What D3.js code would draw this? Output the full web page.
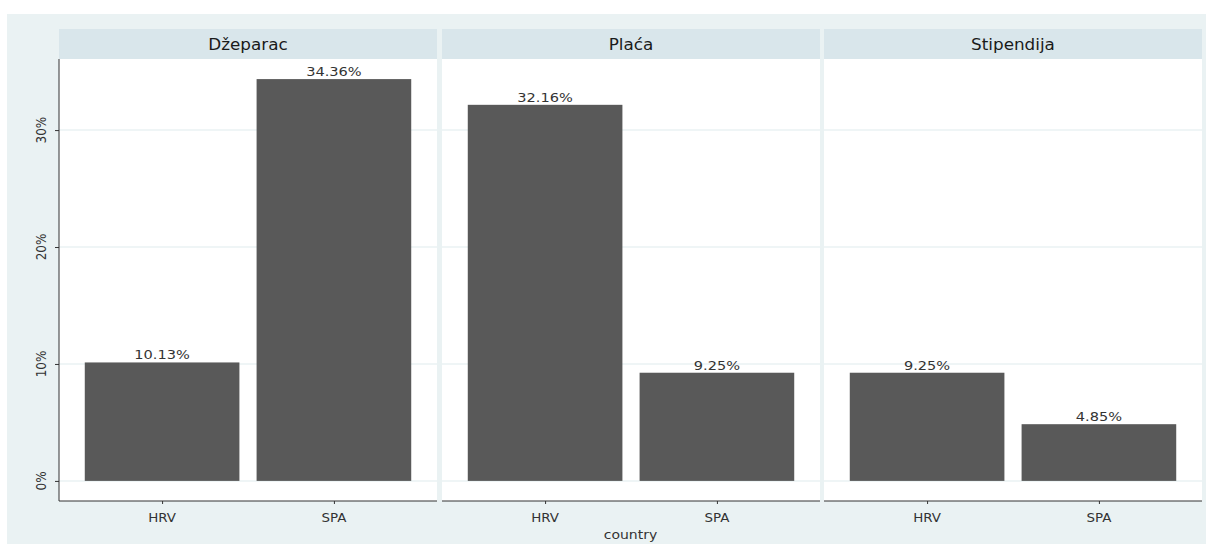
<!DOCTYPE html>
<html><head><meta charset="utf-8">
<script src="https://cdn.jsdelivr.net/npm/d3@7"></script>
<style>body{margin:0;background:#fff;} svg{display:block;font-family:"DejaVu Sans",sans-serif;}</style>
</head><body>
<script>
const panels = ["Džeparac", "Plaća", "Stipendija"];
const countries = ["HRV", "SPA"];
const hrvValues = [10.13, 32.16, 9.25];
const spaValues = [34.36, 9.25, 4.85];
const yTicks = [0, 10, 20, 30];
const xTitle = "country";

(function () {
const W = 1206, H = 544, SX = 1.12;
const svg = d3.select("body").append("svg").attr("width", W).attr("height", H);
svg.append("rect").attr("x", 7).attr("y", 14).attr("width", W - 7).attr("height", H - 14).attr("fill", "#EAF2F3");

function label(parent, x, y, txt, size, color, extra) {
  return parent.append("text")
    .attr("transform", `translate(${x},${y}) scale(${SX},1)${extra || ""}`)
    .attr("text-anchor", "middle").attr("font-size", size).attr("fill", color).text(txt);
}

const panelLeft = [59, 442, 824], panelW = 378;
const pTop = 59, pBottom = 501, stripTop = 29;
const maxV = d3.max(hrvValues.concat(spaValues));
const y = d3.scaleLinear().domain([-0.05 * maxV, maxV * 1.05]).range([pBottom, pTop]);

panels.forEach((p, i) => {
  const x0 = panelLeft[i];
  const g = svg.append("g");
  g.append("rect").attr("x", x0).attr("y", stripTop).attr("width", panelW).attr("height", pTop - stripTop).attr("fill", "#D9E6EB");
  label(g, x0 + panelW / 2, 50, p, 15, "#1a1a1a");
  g.append("rect").attr("x", x0).attr("y", pTop).attr("width", panelW).attr("height", pBottom - pTop).attr("fill", "#fff");
  yTicks.forEach(t => {
    g.append("line").attr("x1", x0).attr("x2", x0 + panelW).attr("y1", y(t)).attr("y2", y(t))
      .attr("stroke", "#EAF2F3").attr("stroke-width", 1.5);
  });
  // ggplot discrete positions 1,2 with expanded range [0.4, 2.6]
  const xc = d3.scalePoint().domain(countries).range([x0 + panelW * 0.6 / 2.2, x0 + panelW * 1.6 / 2.2]);
  const unit = panelW / 2.2, bw = unit * 0.9;
  const vals = [hrvValues[i], spaValues[i]];
  countries.forEach((c, j) => {
    g.append("rect").attr("x", xc(c) - bw / 2).attr("y", y(vals[j])).attr("width", bw).attr("height", y(0) - y(vals[j]))
      .attr("fill", "#595959");
    label(g, xc(c), y(vals[j]) - 3, vals[j].toFixed(2) + "%", 13, "#333");
  });
  const ax = g.append("g").attr("transform", `translate(0,${pBottom})`).call(d3.axisBottom(xc).tickSize(3).tickSizeOuter(0));
  ax.select(".domain").attr("d", `M${x0},0H${x0 + panelW}`).attr("stroke", "#333");
  ax.selectAll(".tick line").attr("stroke", "#333");
  ax.selectAll(".tick text").remove();
  countries.forEach(c => label(g, xc(c), 522, c, 12, "#333"));
  if (i === 0) {
    const ay = g.append("g").attr("transform", `translate(${x0},0)`)
      .call(d3.axisLeft(y).tickValues(yTicks).tickSize(4).tickSizeOuter(0));
    ay.select(".domain").attr("d", `M0,${pTop}V${pBottom}`).attr("stroke", "#333");
    ay.selectAll(".tick line").attr("stroke", "#333");
    ay.selectAll(".tick text").remove();
    yTicks.forEach(t => label(g, 46, y(t), t + "%", 12, "#333", " rotate(-90)"));
  }
});
label(svg, (panelLeft[0] + panelLeft[2] + panelW) / 2, 539, xTitle, 12.5, "#333");
})();
</script>
</body></html>
